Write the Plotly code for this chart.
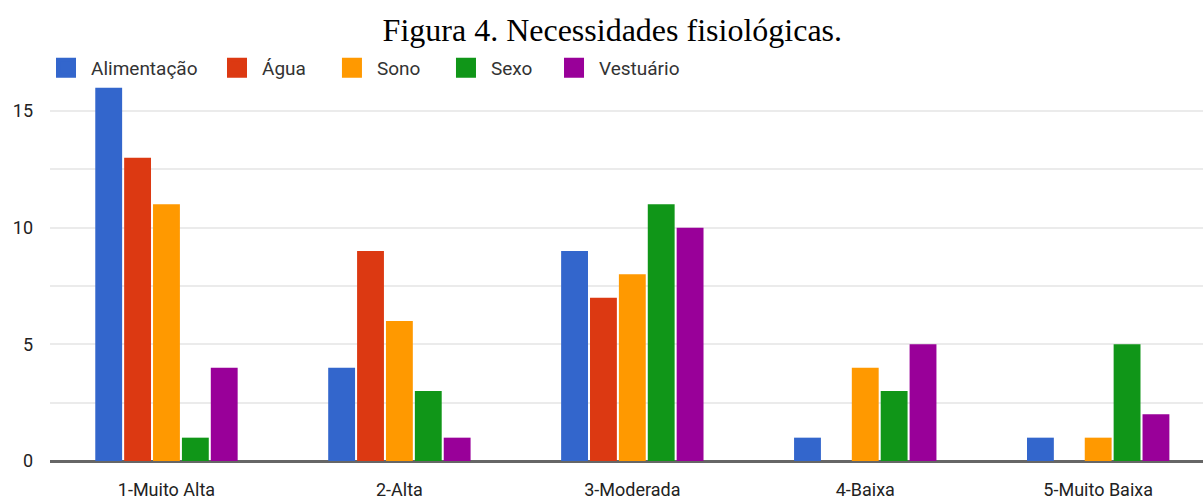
import plotly.graph_objects as go

categories = ["1-Muito Alta", "2-Alta", "3-Moderada", "4-Baixa", "5-Muito Baixa"]
alimentacao = [16, 4, 9, 1, 1]
agua = [13, 9, 7, 0, 0]
sono = [11, 6, 8, 4, 1]
sexo = [1, 3, 11, 3, 5]
vestuario = [4, 1, 10, 5, 2]

series = [
    ("Alimentação", alimentacao, "#3366cc"),
    ("Água", agua, "#dc3912"),
    ("Sono", sono, "#ff9900"),
    ("Sexo", sexo, "#109618"),
    ("Vestuário", vestuario, "#990099"),
]
legend_x = [-0.0078, 0.1405, 0.2402, 0.3391, 0.4328]

tick_vals = [0, 2.5, 5, 7.5, 10, 12.5, 15]
tick_text = ["0", "", "5", "", "10", "", "15"]

fig = go.Figure()
for name, vals, color in series:
    fig.add_trace(go.Bar(x=categories, y=vals, name=name, legendgroup=name, showlegend=False,
                         marker=dict(color=color, line=dict(width=0))))
# legend entries with larger square swatches, each in its own legend box
for i, (name, vals, color) in enumerate(series):
    lg = "legend" if i == 0 else f"legend{i+1}"
    fig.add_trace(go.Scatter(x=[None], y=[None], mode="markers", name=name, legendgroup=name,
                             legend=lg,
                             marker=dict(symbol="square", size=26, color=color,
                                         line=dict(color=color, width=4)),
                             hoverinfo="skip"))

legend_common = dict(orientation="h", xanchor="left", y=1.04, yanchor="middle",
                     font=dict(family="Roboto", size=19, color="#333"),
                     itemsizing="trace", itemwidth=40, bgcolor="rgba(0,0,0,0)")
layout_legends = {}
for i, lx in enumerate(legend_x):
    key = "legend" if i == 0 else f"legend{i+1}"
    layout_legends[key] = dict(legend_common, x=lx)

fig.update_layout(
    width=1203, height=504,
    margin=dict(l=50, r=0, t=83, b=43),
    paper_bgcolor="white", plot_bgcolor="white",
    barmode="group", bargap=0.38, bargroupgap=0.07,
    title=dict(text="Figura 4. Necessidades fisiológicas.", x=0.509, xanchor="center",
               y=0.94, yanchor="middle",
               font=dict(family="Liberation Serif", size=32, color="black")),
    font=dict(family="Roboto", size=18, color="#222"),
    showlegend=True,
    **layout_legends,
)
fig.update_xaxes(range=[-0.5, 4.45], showgrid=False, showline=False, ticks="",
                 ticklabelstandoff=16,
                 tickfont=dict(size=18, color="#222"))
fig.update_yaxes(range=[0, 16.2], tickvals=tick_vals, ticktext=tick_text,
                 showgrid=True, gridcolor="#ebebeb", gridwidth=2,
                 zeroline=True, zerolinecolor="#666", zerolinewidth=3,
                 ticklabelstandoff=16,
                 tickfont=dict(size=18, color="#222"), ticks="")

fig.write_html("out.html")
